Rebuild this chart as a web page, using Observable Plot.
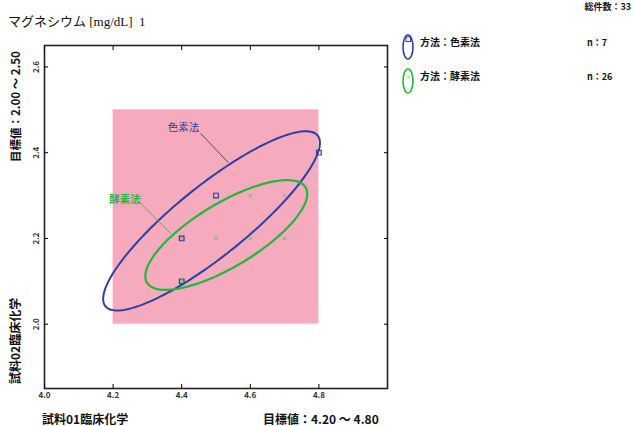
<!DOCTYPE html>
<html><head><meta charset="utf-8">
<script src="https://cdn.jsdelivr.net/npm/d3@7"></script>
<script src="https://cdn.jsdelivr.net/npm/@observablehq/plot@0.6"></script>
<style>body{margin:0;background:#fff} svg{display:block}</style>
</head><body><div id="chart"></div>
<script>
// ---- data ----
const xTicks = [4.0, 4.2, 4.4, 4.6, 4.8];
const yTicks = [2.0, 2.2, 2.4, 2.6];
const xDomain = [4.0, 5.0];
const yDomain = [1.85, 2.65];
const targetX = [4.2, 4.8];
const targetY = [2.0, 2.5];
const methods = ["色素法", "酵素法"];
const counts = [7, 26];
const totalCount = 33;
// 色素法 points
const colorX = [4.5, 4.4, 4.4, 4.8];
const colorY = [2.3, 2.2, 2.1, 2.4];
// 酵素法 points
const enzX = [4.6, 4.7, 4.5, 4.6, 4.7, 4.4, 4.4];
const enzY = [2.3, 2.3, 2.2, 2.2, 2.2, 2.2, 2.1];
// ellipse parameters: [cx, cy, sx, sy, r]
const ellColor = [4.487, 2.241, 0.316, 0.209, 0.87];
const ellEnz = [4.530, 2.208, 0.236, 0.128, 0.75];
// annotation label anchors (data units): [labelX, labelY, lineX1, lineY1, lineX2, lineY2]
const annColor = [4.405, 2.458, 4.455, 2.445, 4.536, 2.377];
const annEnz = [4.235, 2.291, 4.280, 2.282, 4.367, 2.212];

const BLUE = "#2f3f9f", GREEN = "#1fb83a", PINK = "#f5abbd";

function ellipse(p) {
  const [cx, cy, sx, sy, r] = p, q = Math.sqrt(1 - r * r);
  return d3.range(0, 361, 2).map(a => {
    const t = a * Math.PI / 180;
    return {x: cx + sx * Math.cos(t), y: cy + sy * (r * Math.cos(t) + q * Math.sin(t))};
  });
}
const colorPts = colorX.map((x, i) => ({x, y: colorY[i]}));
const enzPts = enzX.map((x, i) => ({x, y: enzY[i]}));
const fmt = d3.format(".1f");

const plot = Plot.plot({
  width: 633, height: 426,
  marginLeft: 44, marginRight: 246, marginTop: 45, marginBottom: 38,
  style: {fontFamily: "'Noto Sans CJK JP', sans-serif", background: "#fff"},
  x: {domain: xDomain},
  y: {domain: yDomain},
  marks: [
    Plot.rect([0], {x1: targetX[0], x2: targetX[1], y1: targetY[0], y2: targetY[1], fill: PINK}),
    Plot.line(ellipse(ellColor), {x: "x", y: "y", stroke: BLUE, strokeWidth: 2}),
    Plot.line(ellipse(ellEnz), {x: "x", y: "y", stroke: GREEN, strokeWidth: 2.2}),
    Plot.dot(enzPts, {x: "x", y: "y", symbol: "times", r: 1.6, stroke: "#62c262", strokeWidth: 1}),
    Plot.dot(colorPts, {x: "x", y: "y", symbol: "square", r: 2.6, stroke: BLUE, strokeWidth: 1.2, fill: "none"}),
    Plot.link([0], {x1: annColor[2], y1: annColor[3], x2: annColor[4], y2: annColor[5], stroke: "#333", strokeWidth: 0.8}),
    Plot.link([0], {x1: annEnz[2], y1: annEnz[3], x2: annEnz[4], y2: annEnz[5], stroke: GREEN, strokeWidth: 0.8}),
    Plot.text([methods[0]], {x: annColor[0], y: annColor[1], text: d => d, fill: BLUE, fontSize: 10.5}),
    Plot.text([methods[1]], {x: annEnz[0], y: annEnz[1], text: d => d, fill: GREEN, fontSize: 10.5, fontWeight: "bold"}),
    Plot.frame({stroke: "#222", strokeWidth: 1.6}),
    Plot.axisX(xTicks, {anchor: "bottom", tickSize: 0, tickPadding: 4, tickFormat: fmt, fontSize: 8, fontWeight: "bold", label: null, fill: "#333"}),
    Plot.axisX(xTicks, {anchor: "bottom", tickSize: -4, text: null, label: null}),
    Plot.axisX(xTicks, {anchor: "top", tickSize: -4, text: null, label: null}),
    Plot.axisY(yTicks, {anchor: "left", tickSize: 0, tickPadding: 6, tickRotate: -90, tickFormat: fmt, fontSize: 8, fontWeight: "bold", label: null, fill: "#333"}),
    Plot.axisY(yTicks, {anchor: "left", tickSize: -4, text: null, label: null}),
    Plot.axisY(yTicks, {anchor: "right", tickSize: -4, text: null, label: null})
  ]
});
document.getElementById("chart").appendChild(plot);

const svg = d3.select(plot);
const J = "'Noto Sans CJK JP', sans-serif";
function txt(x, y, s, o = {}) {
  const t = svg.append("text").attr("x", x).attr("y", y).text(s)
    .attr("font-family", o.family || J).attr("font-size", o.size || 10)
    .attr("font-weight", o.weight || "bold").attr("fill", o.fill || "#111")
    .attr("text-anchor", o.anchor || "start");
  if (o.rotate) t.attr("transform", `rotate(-90,${x},${y})`);
  return t;
}
txt(8, 26, "マグネシウム [mg/dL]\u00a0\u00a01", {family: "'Liberation Serif', 'Noto Sans CJK JP', serif", size: 13, weight: "normal"});
txt(631, 10, `総件数：${totalCount}`, {size: 9, anchor: "end"});
// legend
const legendY = [46, 80];
const legendColors = [BLUE, GREEN];
methods.forEach((m, i) => {
  svg.append("ellipse").attr("cx", 408).attr("cy", legendY[i] + 1).attr("rx", 5).attr("ry", 12)
    .attr("fill", "none").attr("stroke", legendColors[i]).attr("stroke-width", 1.6);
  txt(420, legendY[i], `方法：${m}`, {size: 10});
  txt(587, legendY[i], `n：${counts[i]}`, {size: 9});
});
svg.append("rect").attr("x", 406).attr("y", 37).attr("width", 4.5).attr("height", 4.5)
  .attr("fill", "none").attr("stroke", BLUE).attr("stroke-width", 1);
svg.append("text").attr("x", 408.2).attr("y", 79).attr("text-anchor", "middle").attr("font-size", 6).attr("fill", "#62c262").text("×");
// axis titles
txt(42, 424, "試料01臨床化学", {size: 12});
txt(263, 424, `目標値：${targetX[0].toFixed(2)} ～ ${targetX[1].toFixed(2)}`, {size: 12});
txt(20, 384, "試料02臨床化学", {size: 12, rotate: true});
txt(20, 162, `目標値：${targetY[0].toFixed(2)} ～ ${targetY[1].toFixed(2)}`, {size: 11.5, rotate: true});
</script></body></html>
